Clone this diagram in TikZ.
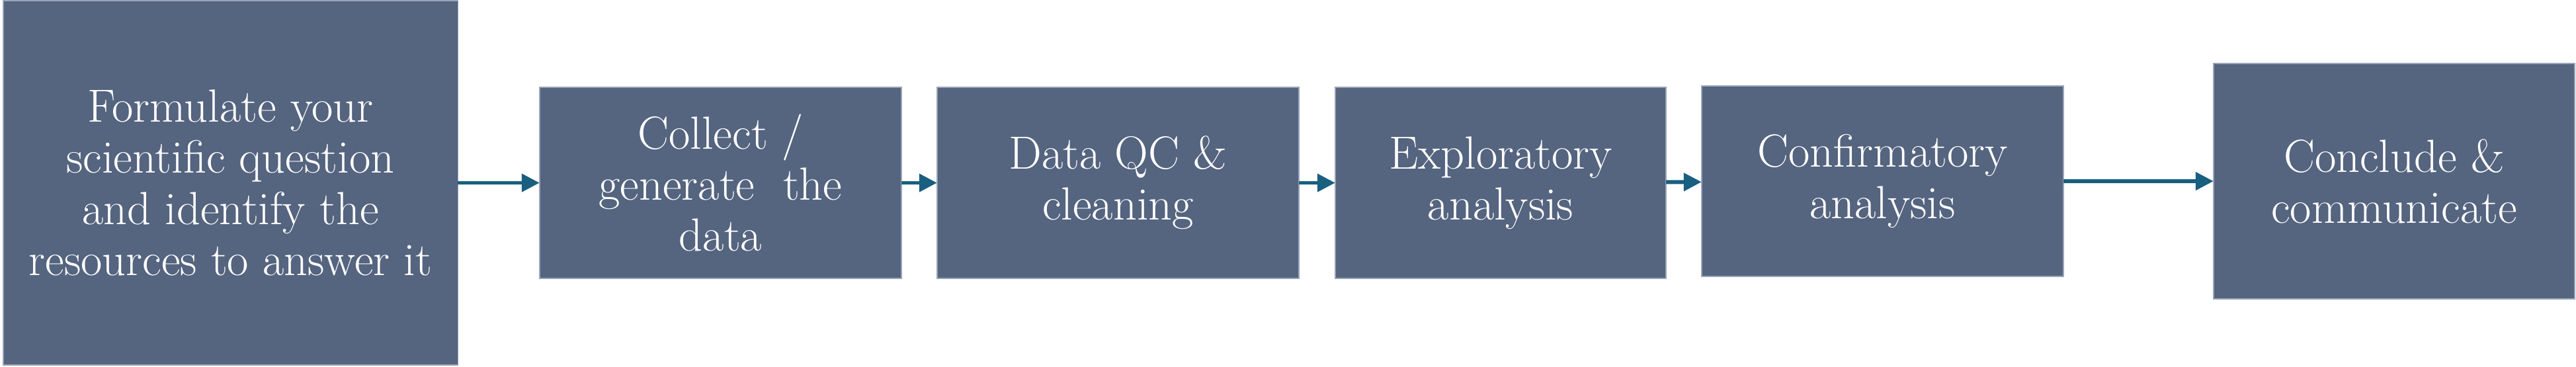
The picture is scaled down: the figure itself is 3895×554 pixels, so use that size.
\documentclass[tikz,border=0pt]{standalone}
\usepackage{xcolor}
\usepackage{tikz}
\usetikzlibrary{arrows.meta}
\definecolor{stagefill}{HTML}{55647F}
\definecolor{stageedge}{HTML}{9AA5B8}
\definecolor{flowblue}{HTML}{195F80}

\begin{document}
\begin{tikzpicture}[
    x=0.01cm, y=-0.01cm,
    stage/.style={rectangle, fill=stagefill, draw=stageedge, line width=0.4pt, inner sep=0pt, outer sep=0pt,
        text=white, align=center, font=\fontsize{20}{22}\selectfont},
    flow/.style={-{Triangle[length=0.27cm, width=0.265cm]}, draw=flowblue, line width=1.7pt}
]
    \useasboundingbox (0,0) rectangle (3895,554);
    \node[stage, minimum width=6.87cm, minimum height=5.51cm] (formulate) at (348.5,276.5)
        {Formulate your\\scientific question\\and identify the\\resources to answer it};
    \node[stage, minimum width=5.47cm, minimum height=2.89cm] (collect) at (1089.5,276.5)
        {Collect /\\generate\ \ the\\data};
    \node[stage, minimum width=5.47cm, minimum height=2.89cm] (qc) at (1690.5,276.5)
        {Data QC \&\\cleaning};
    \node[stage, minimum width=5.00cm, minimum height=2.89cm] (explore) at (2269,276.5)
        {Exploratory\\analysis};
    \node[stage, minimum width=5.47cm, minimum height=2.88cm] (confirm) at (2846.5,274)
        {Confirmatory\\analysis};
    \node[stage, minimum width=5.46cm, minimum height=3.56cm] (conclude) at (3620,274)
        {Conclude \&\\communicate};

    \draw[flow] (formulate) -- (collect);
    \draw[flow] (collect) -- (qc);
    \draw[flow] (qc) -- (explore);
    \draw[flow] (explore) -- (confirm);
    \draw[flow] (confirm) -- (conclude);
\end{tikzpicture}
\end{document}
